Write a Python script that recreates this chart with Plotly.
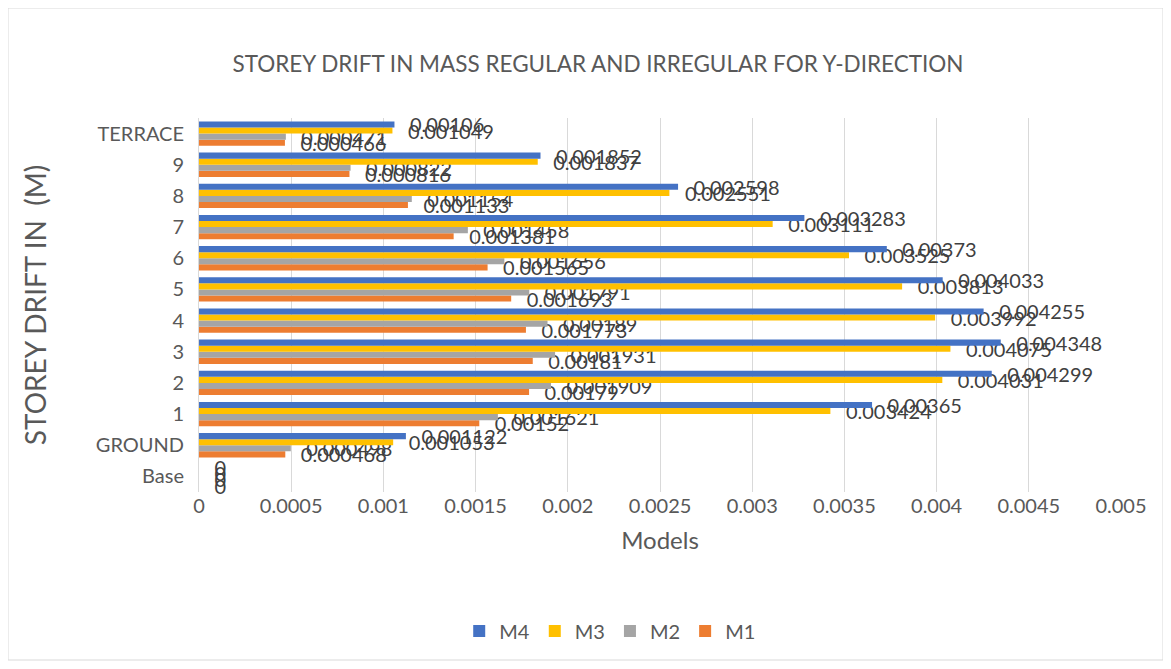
import plotly.graph_objects as go

storeys = ["Base", "GROUND", "1", "2", "3", "4", "5", "6", "7", "8", "9", "TERRACE"]
m1 = [0, 0.000468, 0.00152, 0.00179, 0.00181, 0.001773, 0.001693, 0.001565, 0.001381, 0.001133, 0.000816, 0.000466]
m2 = [0, 0.000498, 0.001621, 0.001909, 0.001931, 0.00189, 0.001791, 0.001656, 0.001458, 0.001154, 0.000822, 0.000471]
m3 = [0, 0.001053, 0.003424, 0.004031, 0.004075, 0.003992, 0.003813, 0.003525, 0.003111, 0.002551, 0.001837, 0.001049]
m4 = [0, 0.001122, 0.00365, 0.004299, 0.004348, 0.004255, 0.004033, 0.00373, 0.003283, 0.002598, 0.001852, 0.00106]
x_ticks = [0, 0.0005, 0.001, 0.0015, 0.002, 0.0025, 0.003, 0.0035, 0.004, 0.0045, 0.005]
x_tick_labels = ["0", "0.0005", "0.001", "0.0015", "0.002", "0.0025", "0.003", "0.0035", "0.004", "0.0045", "0.005"]

series = [("M1", m1, "#ED7D31"), ("M2", m2, "#A5A5A5"), ("M3", m3, "#FFC000"), ("M4", m4, "#4472C4")]

FONT = "Lato"
fig = go.Figure()
for name, vals, color in series:
    fig.add_trace(go.Bar(
        y=storeys, x=vals, name=name, orientation="h",
        marker=dict(color=color, line=dict(width=0)),
        text=[str(v) for v in vals], texttemplate="\u2002\u2009%{text}", textposition="outside",
        textfont=dict(family=FONT, size=20, color="#404040"),
        constraintext="none", cliponaxis=False,
    ))

# page body adds an 8px offset: plot area targets x 199..1121, y 118..492 in the window
fig.update_layout(
    width=1163, height=661,
    paper_bgcolor="white", plot_bgcolor="white",
    barmode="group", bargap=0.22, bargroupgap=0,
    margin=dict(l=191, r=50, t=110, b=177),
    font=dict(family=FONT, color="#595959"),
    title=dict(text="STOREY DRIFT IN MASS REGULAR AND IRREGULAR FOR Y-DIRECTION",
               x=(598 - 8) / 1163, xanchor="center", y=1 - 56 / 661, yanchor="middle",
               font=dict(family=FONT, size=22.5, color="#595959")),
    xaxis=dict(range=[0, 0.005], tickvals=x_ticks, ticktext=x_tick_labels,
               showgrid=True, gridcolor="#D9D9D9", gridwidth=1, zeroline=False,
               tickfont=dict(family=FONT, size=20, color="#595959"),
               title=dict(text="Models", font=dict(family=FONT, size=24, color="#595959"), standoff=16)),
    yaxis=dict(showline=True, linecolor="#D9D9D9", showgrid=False,
               tickfont=dict(family=FONT, size=20, color="#595959"), ticks="", ticklabelstandoff=10,
               title=dict(text="STOREY DRIFT IN  (M)", font=dict(family=FONT, size=28, color="#595959"), standoff=40)),
    legend=dict(orientation="h", traceorder="reversed", x=0.446, xanchor="center",
                y=(492 - 631) / 374, yanchor="middle",
                font=dict(family=FONT, size=20, color="#595959"), itemwidth=30),
    showlegend=True,
    shapes=[dict(type="rect", xref="paper", yref="paper",
                 x0=(8 - 199) / 922, x1=(1163 - 199) / 922,
                 y0=(492 - 660) / 374, y1=(492 - 8) / 374,
                 line=dict(color="#D9D9D9", width=1), fillcolor="rgba(0,0,0,0)", layer="below")],
)

fig.write_html("out.html")
